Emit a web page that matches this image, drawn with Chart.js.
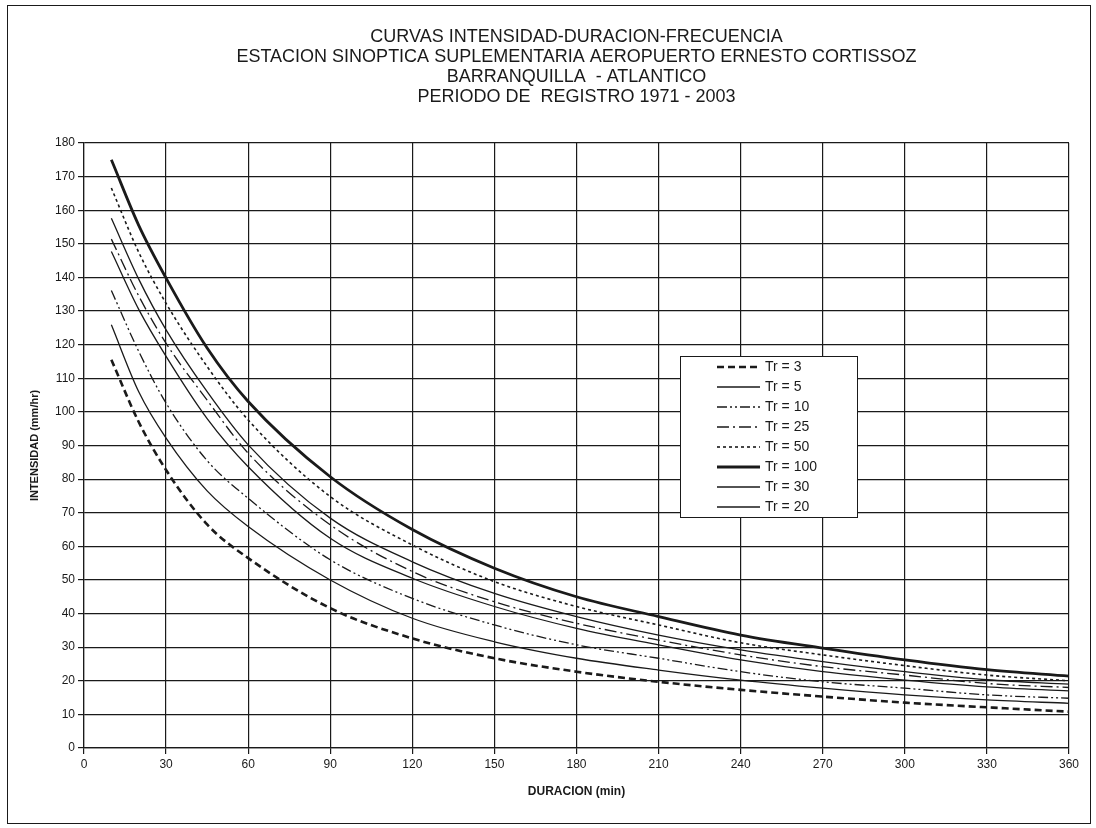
<!DOCTYPE html>
<html>
<head>
<meta charset="utf-8">
<script src="https://cdn.jsdelivr.net/npm/chart.js@4/dist/chart.umd.min.js"></script>
<style>
  body { margin: 0; background: #fff; }
  #wrap { width: 1096px; height: 828px; position: relative; }
</style>
</head>
<body>
<div id="wrap"><canvas id="myChart"></canvas></div>
<script>
var durations = [10, 20, 30, 45, 60, 90, 120, 150, 180, 210, 240, 270, 300, 330, 360];

var tr3   = [115.5, 97, 82.7, 66.5, 56.5, 41.6, 32.6, 26.7, 22.7, 19.7, 17.3, 15.3, 13.5, 12.1, 10.8];
var tr5   = [125.9, 106, 92.2, 76.5, 65.9, 50, 38.6, 31.6, 26.7, 23.2, 20.2, 17.8, 15.8, 14.3, 13.3];
var tr10  = [136.1, 118, 102.6, 85.5, 74.3, 56, 44.5, 36.6, 30.7, 26.7, 22.7, 19.7, 17.8, 15.8, 14.8];
var tr25  = [151.4, 134.5, 120.4, 103.5, 87.7, 66.4, 52.5, 43.5, 37.1, 32.1, 27.7, 24.2, 21.7, 19.2, 18.0];
var tr50  = [166.6, 147.5, 132.3, 113.5, 97.6, 74.8, 60.4, 49.5, 42.1, 36.6, 31.3, 27.7, 24.5, 21.7, 20.0];
var tr100 = [175, 155.5, 139.8, 119, 103.1, 80.7, 65, 53.5, 45, 39.1, 33.6, 29.7, 26.2, 23.3, 21.4];
var tr30  = [157.6, 139.5, 124.4, 106, 90.2, 68.4, 55.4, 46, 39.1, 33.6, 29.2, 25.7, 22.7, 20.3, 19.0];
var tr20  = [147.7, 130.5, 116.5, 98, 83.7, 62.4, 50.5, 42.1, 35.6, 30.7, 26.2, 22.7, 20.2, 18.2, 17.0];

var titleLines = [
    'CURVAS INTENSIDAD-DURACION-FRECUENCIA',
    'ESTACION SINOPTICA SUPLEMENTARIA AEROPUERTO ERNESTO CORTISSOZ',
    'BARRANQUILLA  - ATLANTICO',
    'PERIODO DE  REGISTRO 1971 - 2003'
];

var FONT = "'Liberation Sans', Arial, sans-serif";
var INK = '#1a1a1a';

function pts(vals) {
    var out = [];
    for (var i = 0; i < durations.length; i++) {
        out.push({ x: durations[i], y: vals[i] });
    }
    return out;
}

function series(label, vals, width, dash) {
    return {
        label: label,
        data: pts(vals),
        borderColor: INK,
        backgroundColor: INK,
        borderWidth: width,
        borderDash: dash,
        pointRadius: 0,
        fill: false,
        cubicInterpolationMode: 'monotone'
    };
}

// legend box + outer frame, drawn on top of the chart
var extras = {
    id: 'extras',
    afterDraw: function (chart) {
        var ctx = chart.ctx;
        ctx.save();
        ctx.strokeStyle = INK;
        ctx.lineWidth = 1;
        ctx.setLineDash([]);
        ctx.strokeRect(7.5, 5.5, 1083, 818);

        ctx.fillStyle = '#fff';
        ctx.fillRect(680.5, 356.5, 177, 161);
        ctx.strokeRect(680.5, 356.5, 177, 161);

        ctx.font = '14px ' + FONT;
        ctx.textBaseline = 'middle';
        var sets = chart.data.datasets;
        for (var i = 0; i < sets.length; i++) {
            var y = 367 + i * 20;
            ctx.beginPath();
            ctx.lineWidth = sets[i].borderWidth;
            ctx.setLineDash(sets[i].borderDash || []);
            ctx.moveTo(717, y);
            ctx.lineTo(760, y);
            ctx.stroke();
            ctx.setLineDash([]);
            ctx.fillStyle = INK;
            ctx.fillText(sets[i].label, 765, y);
        }
        ctx.restore();
    }
};

var ctx = document.getElementById('myChart').getContext('2d');
var myChart = new Chart(ctx, {
    type: 'line',
    data: {
        datasets: [
            series('Tr = 3', tr3, 2.6, [7, 4]),
            series('Tr = 5', tr5, 1.3, []),
            series('Tr = 10', tr10, 1.3, [10, 3, 2, 3, 2, 3]),
            series('Tr = 25', tr25, 1.3, [12, 4, 2, 4]),
            series('Tr = 50', tr50, 1.6, [3, 3]),
            series('Tr = 100', tr100, 2.8, []),
            series('Tr = 30', tr30, 1.3, []),
            series('Tr = 20', tr20, 1.3, [])
        ]
    },
    options: {
        responsive: true,
        maintainAspectRatio: false,
        animation: false,
        layout: { padding: { left: 0, right: 27, top: 0, bottom: 0 } },
        plugins: {
            legend: { display: false },
            tooltip: { enabled: false },
            title: {
                display: true,
                text: titleLines,
                color: INK,
                fullSize: false,
                font: { family: FONT, size: 18, weight: 'normal', lineHeight: 20 / 18 },
                padding: { top: 27, bottom: 36 }
            }
        },
        scales: {
            x: {
                type: 'linear',
                min: 0,
                max: 360,
                afterFit: function (scale) { scale.height = 80; },
                ticks: { stepSize: 30, color: INK, padding: 3, font: { family: FONT, size: 12 } },
                grid: { color: INK, lineWidth: 1.2, tickLength: 6 },
                border: { color: INK, width: 1.2 },
                title: {
                    display: true,
                    text: 'DURACION (min)',
                    color: INK,
                    font: { family: FONT, size: 12, weight: 'bold' },
                    padding: { top: 4, bottom: 29 }
                }
            },
            y: {
                min: 0,
                max: 180,
                afterFit: function (scale) { scale.width = 84; },
                ticks: { stepSize: 10, color: INK, padding: 3, font: { family: FONT, size: 12 } },
                grid: { color: INK, lineWidth: 1.2, tickLength: 6 },
                border: { color: INK, width: 1.2 },
                title: {
                    display: true,
                    text: 'INTENSIDAD (mm/hr)',
                    color: INK,
                    font: { family: FONT, size: 11, weight: 'bold' },
                    padding: { top: 28, bottom: 0 }
                }
            }
        }
    },
    plugins: [extras]
});
</script>
</body>
</html>
